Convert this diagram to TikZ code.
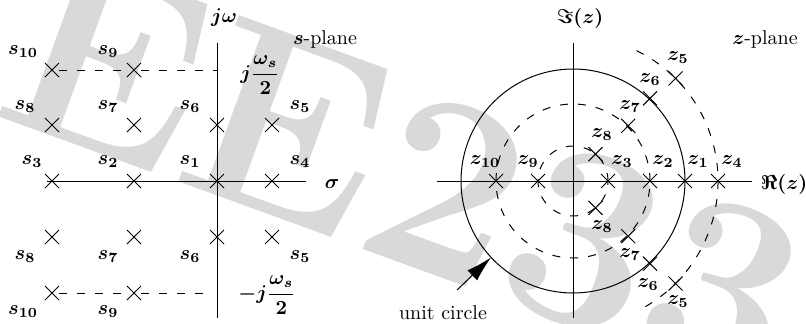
\documentclass[tikz,border=0pt]{standalone}
\usepackage{amsmath,amssymb,bm}
\usepackage{xcolor}
\usepackage{tikz}
\usetikzlibrary{positioning,arrows.meta,calc,shapes.misc}

\tikzset{
  pole/.style={draw, cross out, minimum size=6.5pt, inner sep=0pt, line width=0.5pt},
  lbl/.style={inner sep=0pt, font=\normalsize\boldmath},
  dashline/.style={line width=0.5pt, dash pattern=on 4pt off 5pt},
  axisline/.style={line width=0.5pt},
}

\begin{document}
\begin{tikzpicture}[x=0.5pt, y=0.5pt, >=Stealth]
  \useasboundingbox (0,0) rectangle (806,323);

  % watermark
  \node[anchor=base west, inner sep=0pt, rotate=-20, text=black!15,
        font=\fontsize{130}{130}\selectfont\bfseries] (mark) at (-11,210) {EE233};

  % s-plane axes
  \coordinate (sl) at (47,142);
  \coordinate (sr) at (306,142);
  \coordinate (st) at (217,280);
  \coordinate (sb) at (217,5);
  \draw[axisline] (sl) -- (sr);
  \draw[axisline] (st) -- (sb);

  % s-plane poles
  \node[pole] (s10) at (52,253) {};
  \node[pole] (s9)  at (134,253) {};
  \node[pole] (s8)  at (52,198) {};
  \node[pole] (s7)  at (134,198) {};
  \node[pole] (s6)  at (217,198) {};
  \node[pole] (s5)  at (272,198) {};
  \node[pole] (s3)  at (52,142) {};
  \node[pole] (s2)  at (134,142) {};
  \node[pole] (s1)  at (217,142) {};
  \node[pole] (s4)  at (272,142) {};
  \node[pole] (s8m) at (52,86) {};
  \node[pole] (s7m) at (134,86) {};
  \node[pole] (s6m) at (217,86) {};
  \node[pole] (s5m) at (272,86) {};
  \node[pole] (s10m) at (52,30) {};
  \node[pole] (s9m)  at (134,30) {};

  \coordinate (wt) at (217,253);
  \coordinate (wb) at (212,30);
  \draw[dashline] (s10) -- (s9) -- (wt);
  \draw[dashline] (s10m) -- (s9m) -- (wb);

  % s-plane labels
  \node[lbl] (ls10) at (23,271) {$s_{10}$};
  \node[lbl] (ls9)  at (108,271) {$s_9$};
  \node[lbl] (ls8)  at (25,216) {$s_8$};
  \node[lbl] (ls7)  at (108,216) {$s_7$};
  \node[lbl] (ls6)  at (190,216) {$s_6$};
  \node[lbl] (ls5)  at (300,216) {$s_5$};
  \node[lbl] (ls3)  at (32,161) {$s_3$};
  \node[lbl] (ls2)  at (108,161) {$s_2$};
  \node[lbl] (ls1)  at (190,161) {$s_1$};
  \node[lbl] (ls4)  at (300,161) {$s_4$};
  \node[lbl] (ls8m) at (25,66) {$s_8$};
  \node[lbl] (ls7m) at (108,66) {$s_7$};
  \node[lbl] (ls6m) at (190,66) {$s_6$};
  \node[lbl] (ls5m) at (300,66) {$s_5$};
  \node[lbl] (ls10m) at (23,11) {$s_{10}$};
  \node[lbl] (ls9m)  at (108,11) {$s_9$};

  \node[lbl] (jw)  at (224,305) {$j\omega$};
  \node[lbl] (spl) at (325,284) {$s$-plane};
  \node[lbl] (sig) at (332,139) {$\sigma$};
  \node[lbl] (wsp) at (260,248) {$j\dfrac{\omega_s}{2}$};
  \node[lbl] (wsm) at (267,28) {$-j\dfrac{\omega_s}{2}$};

  % z-plane axes and circles
  \coordinate (zo) at (573,142);
  \coordinate (zl) at (437,142);
  \coordinate (zr) at (752,142);
  \coordinate (zt) at (573,280);
  \coordinate (zb) at (573,5);
  \draw[axisline] (zl) -- (zr);
  \draw[axisline] (zt) -- (zb);
  \draw[axisline] (zo) circle[radius=112];
  \draw[dashline] (zo) circle[radius=77];
  \draw[dashline] (zo) circle[radius=35];
  \draw[dashline] ($(zo)+(64:145)$) arc[start angle=64, end angle=-61, radius=145];

  % z-plane poles
  \node[pole] (z10) at ($(zo)+(-77,0)$) {};
  \node[pole] (z9)  at ($(zo)+(-35,0)$) {};
  \node[pole] (z3)  at ($(zo)+(35,0)$) {};
  \node[pole] (z2)  at ($(zo)+(77,0)$) {};
  \node[pole] (z1)  at ($(zo)+(112,0)$) {};
  \node[pole] (z4)  at ($(zo)+(145,0)$) {};
  \node[pole] (z5)  at ($(zo)+(45:145)$) {};
  \node[pole] (z6)  at ($(zo)+(47:113)$) {};
  \node[pole] (z7)  at ($(zo)+(45:78)$) {};
  \node[pole] (z8)  at ($(zo)+(50:35)$) {};
  \node[pole] (z5m) at ($(zo)+(-45:145)$) {};
  \node[pole] (z6m) at ($(zo)+(-47:113)$) {};
  \node[pole] (z7m) at ($(zo)+(-45:78)$) {};
  \node[pole] (z8m) at ($(zo)+(-50:35)$) {};

  % z-plane labels
  \node[lbl] (lz10) at (485,161) {$z_{10}$};
  \node[lbl] (lz9)  at (528,161) {$z_9$};
  \node[lbl] (lz3)  at (622,161) {$z_3$};
  \node[lbl] (lz2)  at (663,161) {$z_2$};
  \node[lbl] (lz1)  at (698,161) {$z_1$};
  \node[lbl] (lz4)  at (732,161) {$z_4$};
  \node[lbl] (lz8)  at (602,188) {$z_8$};
  \node[lbl] (lz7)  at (630,216) {$z_7$};
  \node[lbl] (lz6)  at (650,243) {$z_6$};
  \node[lbl] (lz5)  at (678,265) {$z_5$};
  \node[lbl] (lz8m) at (602,96) {$z_8$};
  \node[lbl] (lz7m) at (630,68) {$z_7$};
  \node[lbl] (lz6m) at (648,38) {$z_6$};
  \node[lbl] (lz5m) at (678,21) {$z_5$};

  \node[lbl] (imz) at (580,305) {$\Im(z)$};
  \node[lbl] (rez) at (784,139) {$\Re(z)$};
  \node[lbl] (zpl) at (765,284) {$z$-plane};

  % unit circle pointer
  \node[lbl] (uc) at (443,10) {unit circle};
  \coordinate (ucp) at ($(zo)+(223:112)$);
  \coordinate (uct) at (457,33);
  \draw[-{Latex[length=13pt,width=7pt]}, line width=0.5pt] (uct) -- (ucp);
\end{tikzpicture}
\end{document}
